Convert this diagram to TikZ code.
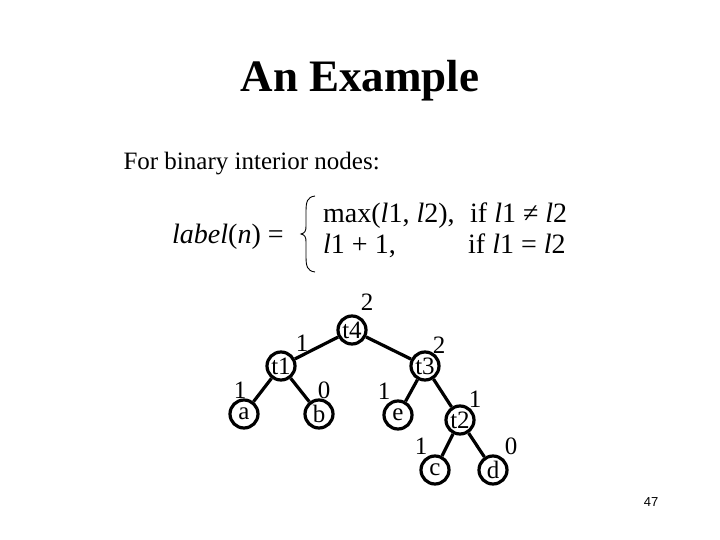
\documentclass[tikz,border=0pt]{standalone}
\usepackage{fontspec}
\setmainfont{Liberation Serif}
\newfontfamily\pagefont{Liberation Sans}
\tikzset{
  vert/.style={circle,draw,line width=3.2bp,minimum size=28bp,inner sep=0pt,font=\fontsize{25bp}{28bp}\selectfont},
  rank/.style={inner sep=0pt,font=\fontsize{25bp}{28bp}\selectfont},
  edge/.style={line width=3.2bp},
  formula/.style={anchor=base west,inner sep=0pt,font=\fontsize{28bp}{32bp}\selectfont}
}
\begin{document}
\begin{tikzpicture}[x=1bp,y=-1bp]
        \useasboundingbox (0,0) rectangle (720,540);
        % title
        \node [anchor=base] (title) at (360,92) {\fontsize{45bp}{54bp}\selectfont\bfseries An Example};
        \node [anchor=base west] (intro) at (120,170) {\fontsize{25bp}{30bp}\selectfont For binary interior nodes:};
        % formula
        \node [formula] (lhs) at (172,244) {\textit{label}(\textit{n}) =};
        \draw [line width=0.9bp] (315,196) .. controls (307,197) and (306,202) .. (306,212) -- (306,226) .. controls (306,231) and (305,233) .. (301,234)
              .. controls (305,235) and (306,237) .. (306,242) -- (306,256) .. controls (306,266) and (307,271) .. (315,272);
        \node [formula] (maxcase) at (323,223) {max(\textit{l}1, \textit{l}2),};
        \node [formula] (neqcase) at (470,223) {if \textit{l}1 ≠ \textit{l}2};
        \node [formula] (inccase) at (323,254) {\textit{l}1 + 1,};
        \node [formula] (eqcase) at (468,254) {if \textit{l}1 = \textit{l}2};
        % tree
        \node [vert] (t4) at (352,330) {t4};
        \node [vert] (t1) at (281,366) {t1};
        \node [vert] (t3) at (425,366) {t3};
        \node [vert] (a) at (244,414) {a};
        \node [vert] (b) at (319,414) {b};
        \node [vert] (e) at (398,415) {e};
        \node [vert] (t2) at (460,420) {t2};
        \node [vert] (c) at (435,470) {c};
        \node [vert] (d) at (493,470) {d};
        \draw [edge] (t4) -- (t1);\draw [edge] (t4) -- (t3);
        \draw [edge] (t1) -- (a);\draw [edge] (t1) -- (b);
        \draw [edge] (t3) -- (e);\draw [edge] (t3) -- (t2);
        \draw [edge] (t2) -- (c);\draw [edge] (t2) -- (d);
        % ranks
        \node [rank] (rt4) at (367,302) {2};\node [rank] (rt1) at (302,343) {1};\node [rank] (rt3) at (439,345) {2};
        \node [rank] (ra) at (240,390) {1};\node [rank] (rb) at (324,390) {0};\node [rank] (re) at (384,391) {1};
        \node [rank] (rt2) at (475,399) {1};\node [rank] (rc) at (421,446) {1};\node [rank] (rd) at (511,446) {0};
        % page
        \node (page) at (651,502) {\pagefont\fontsize{13bp}{15bp}\selectfont 47};
\end{tikzpicture}
\end{document}
